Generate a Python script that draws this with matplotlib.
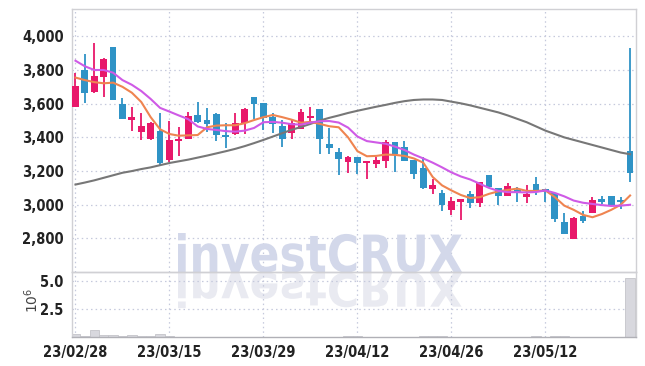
import numpy as np
import matplotlib
matplotlib.use("Agg")
import matplotlib.pyplot as plt
from matplotlib.textpath import TextPath
from matplotlib.patches import PathPatch
from matplotlib.font_manager import FontProperties
from matplotlib.transforms import Affine2D, IdentityTransform

# daily candles (price)
opens = [3582, 3800, 3671, 3760, 3935, 3598, 3503, 3434, 3389, 3436,
         3266, 3380, 3392, 3535, 3503, 3541, 3414, 3418, 3484, 3642,
         3606, 3523, 3470, 3428, 3452, 3515, 3567, 3359, 3315, 3252,
         3282, 3250, 3240, 3262, 3371, 3341, 3266, 3217, 3092, 3072,
         2969, 3018, 3066, 3012, 3177, 3098, 3054, 3088, 3048, 3123,
         3092, 3072, 2900, 2799, 2933, 2949, 3033, 3052, 3028, 3321]
closes = [3705, 3665, 3764, 3865, 3622, 3511, 3519, 3468, 3484, 3250,
          3384, 3392, 3527, 3493, 3481, 3416, 3404, 3484, 3568, 3598,
          3513, 3481, 3389, 3484, 3549, 3527, 3389, 3339, 3274, 3282,
          3246, 3260, 3266, 3371, 3301, 3262, 3181, 3101, 3117, 2999,
          3024, 3033, 3012, 3135, 3107, 3054, 3112, 3068, 3062, 3082,
          3078, 2917, 2827, 2920, 2906, 3028, 3017, 2995, 3016, 3187]
highs = [3782, 3895, 3958, 3870, 3935, 3632, 3582, 3547, 3493, 3545,
         3499, 3463, 3549, 3608, 3573, 3547, 3484, 3547, 3572, 3642,
         3606, 3543, 3503, 3507, 3570, 3579, 3567, 3454, 3335, 3290,
         3282, 3262, 3282, 3385, 3371, 3379, 3266, 3282, 3151, 3088,
         3048, 3036, 3084, 3135, 3177, 3098, 3131, 3104, 3117, 3163,
         3092, 3072, 2949, 2925, 2963, 3044, 3052, 3052, 3044, 3929]
lows = [3580, 3606, 3665, 3638, 3622, 3510, 3436, 3385, 3385, 3236,
        3256, 3290, 3390, 3488, 3430, 3380, 3335, 3414, 3420, 3507,
        3444, 3424, 3345, 3389, 3450, 3487, 3301, 3301, 3177, 3187,
        3183, 3151, 3217, 3217, 3197, 3262, 3151, 3092, 3064, 2965,
        2939, 2910, 2979, 2989, 3107, 2999, 3054, 3018, 3012, 3056,
        3015, 2900, 2827, 2799, 2890, 2949, 3005, 2990, 2973, 3137]

# moving averages as drawn
ma_short = [3755, 3740, 3728, 3721, 3725, 3700, 3665, 3610, 3520, 3448,
            3420, 3410, 3412, 3414, 3460, 3470, 3472, 3472, 3484, 3503,
            3520, 3533, 3520, 3505, 3487, 3492, 3480, 3466, 3460, 3400,
            3318, 3288, 3290, 3298, 3296, 3290, 3275, 3250, 3165, 3115,
            3085, 3058, 3040, 3045, 3065, 3080, 3088, 3096, 3082, 3082,
            3085, 3045, 2995, 2970, 2940, 2926, 2945, 2970, 3000, 3055]
ma_mid = [3855, 3822, 3800, 3800, 3784, 3740, 3712, 3675, 3628, 3575,
          3553, 3530, 3508, 3465, 3450, 3444, 3437, 3434, 3440, 3456,
          3490, 3492, 3487, 3478, 3476, 3488, 3496, 3497, 3488, 3458,
          3405, 3378, 3370, 3362, 3345, 3325, 3298, 3275, 3250, 3222,
          3192, 3168, 3150, 3125, 3100, 3082, 3075, 3075, 3073, 3076,
          3085, 3070, 3050, 3025, 3012, 3005, 2998, 2993, 2995, 3000]
ma_long = [3120, 3132, 3145, 3160, 3175, 3190, 3200, 3212, 3222, 3235,
           3248, 3258, 3268, 3280, 3292, 3305, 3318, 3332, 3348, 3366,
           3385, 3405, 3425, 3445, 3462, 3480, 3500, 3516, 3530, 3545,
           3558, 3570, 3582, 3593, 3605, 3615, 3622, 3625, 3625, 3622,
           3612, 3602, 3590, 3576, 3562, 3548, 3530, 3510, 3490, 3465,
           3440, 3420, 3400, 3385, 3370, 3355, 3340, 3325, 3310, 3300]

# volume in millions
volume = [0.27, 0.10, 0.60, 0.18, 0.18, 0.05, 0.18, 0.05, 0.05, 0.25,
          0.05, 0.04, 0.04, 0.03, 0.04, 0.04, 0.03, 0.04, 0.03, 0.03,
          0.04, 0.03, 0.03, 0.04, 0.03, 0.03, 0.04, 0.03, 0.03, 0.08,
          0.06, 0.03, 0.03, 0.04, 0.03, 0.03, 0.03, 0.09, 0.09, 0.09,
          0.04, 0.03, 0.03, 0.04, 0.03, 0.03, 0.03, 0.03, 0.04, 0.09,
          0.03, 0.09, 0.09, 0.03, 0.03, 0.03, 0.03, 0.03, 0.03, 5.24]

tick_idx = [0, 10, 20, 30, 40, 50]
tick_dates = ['23/02/28', '23/03/15', '23/03/29', '23/04/12', '23/04/26', '23/05/12']
price_ticks = [2800, 3000, 3200, 3400, 3600, 3800, 4000]
vol_ticks = [2.5, 5.0]

UP = '#e8186a'
DOWN = '#2f93c6'
GRID = '#c5c9dc'
FRAME = '#d0d0d4'
tick_font = FontProperties(family='DejaVu Sans', stretch='condensed', weight='bold', size=10.5)

fig = plt.figure(figsize=(6.45, 3.66), dpi=100)
W, H = 645, 366
left, right = 72 / W, 636 / W
ax = fig.add_axes([left, 1 - 272 / H, right - left, (272 - 9) / H])
ax2 = fig.add_axes([left, 1 - 337 / H, right - left, (337 - 272) / H], sharex=ax)
for a in (ax, ax2):
    a.set_facecolor('none')
    a.set_axisbelow(True)

x = np.arange(len(opens))
o = np.array(opens); c = np.array(closes)
colors = [UP if cc >= oo else DOWN for oo, cc in zip(opens, closes)]
ax.vlines(x, lows, highs, colors=colors, linewidth=1.3, zorder=2)
ax.bar(x, np.maximum(np.abs(c - o), 8), bottom=np.minimum(o, c), width=0.72,
       color=colors, linewidth=0, zorder=3)

ax.plot(x, ma_long, color='#777777', lw=1.5, zorder=4)
ax.plot(x, ma_short, color='#ef8450', lw=1.5, zorder=5)
ax.plot(x, ma_mid, color='#cf5ae6', lw=1.5, zorder=5)

ax2.bar(x, volume, width=1.0, color='#d8d8de', edgecolor='#c4c4ca', linewidth=0.6)

ax.set_xlim(-0.37, 59.63)
ax.set_ylim(2601, 4162)
ax2.set_ylim(0, 5.8)

ax.set_yticks(price_ticks)
ax.set_yticklabels([f'{p:,}' for p in price_ticks])
ax2.set_yticks(vol_ticks)
ax2.set_yticklabels([f'{v:.1f}' for v in vol_ticks])
ax2.set_xticks(tick_idx)
ax2.set_xticklabels(tick_dates)
ax.tick_params(axis='x', labelbottom=False)

for a in (ax, ax2):
    a.grid(True, color=GRID, linestyle=(0, (1.2, 2.5)), linewidth=0.9)
    a.tick_params(length=0, pad=6, labelcolor='#222222')
    for lab in a.get_xticklabels() + a.get_yticklabels():
        lab.set_fontproperties(tick_font)
    for s in a.spines.values():
        s.set_color(FRAME)
        s.set_linewidth(1.0)
ax2.spines['bottom'].set_color('#b0b0b6')

fig.text(32 / W, 1 - 300 / H, r'$10^6$', rotation=90, ha='center', va='center',
         fontsize=10, color='#444444')

# watermark with reflection
tp = TextPath((0, 0), 'investCRUX', size=100,
              prop=FontProperties(family='DejaVu Sans', weight='bold'))
bb = tp.get_extents()
sx = 284 / bb.width
sy = 39 / bb.y1
base = H - 272
t_up = Affine2D().translate(-bb.x0, 0).scale(sx, sy).translate(178, base)
t_dn = Affine2D().translate(-bb.x0, 0).scale(sx, -sy * 0.9).translate(178, base - 1)
wm = PathPatch(t_up.transform_path(tp), facecolor='#d3d8ea', edgecolor='none',
               transform=IdentityTransform(), zorder=1, clip_on=False)
wm2 = PathPatch(t_dn.transform_path(tp), facecolor='#e9eaf1', edgecolor='none',
                transform=IdentityTransform(), zorder=1, clip_on=False)
ax.add_artist(wm)
ax.add_artist(wm2)

fig.savefig('out.png', dpi=100, facecolor='white')
